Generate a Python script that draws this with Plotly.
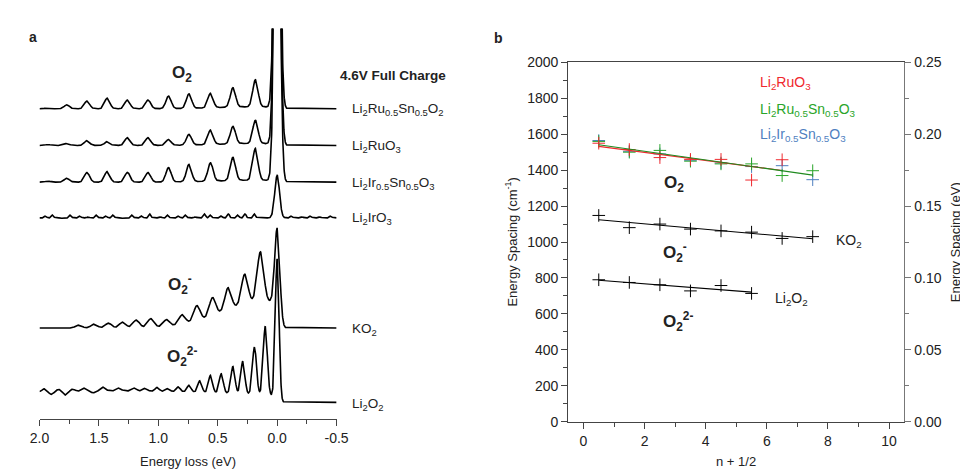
import numpy as np
import plotly.graph_objects as go

# ---------------- Panel a : RIXS spectra ----------------
spectrum_names = ["Li2Ru0.5Sn0.5O2", "Li2RuO3", "Li2Ir0.5Sn0.5O3", "Li2IrO3", "KO2", "Li2O2"]
spectrum_offsets = [321, 283, 245, 208, 94, 17]          # baseline level of each trace

o2_peak_eV = [0.183, 0.372, 0.561, 0.742, 0.914, 1.086, 1.26, 1.43, 1.60, 1.77, 1.93]
rusn_heights = [28, 20, 15, 15, 13, 9, 9, 11, 8, 4, 1]
ru_heights = [24, 18, 15, 11, 6, 8, 8, 4, 5, 2, 1]
irsn_heights = [33, 24, 19, 18, 15, 10, 10, 11, 10, 4, 1]

ir_noise_eV = [1.95, 1.89, 1.80, 1.74, 1.66, 1.59, 1.52, 1.44, 1.38, 1.29, 1.22, 1.14, 1.07,
               0.98, 0.92, 0.83, 0.77, 0.69, 0.61, 0.56, 0.47, 0.41, 0.33, 0.27, 0.19,
               -0.12, -0.21, -0.28, -0.36, -0.45]
ir_noise_h = [2, 3, -1, 3, 2, 1, 3, 2, 3, -1, 3, 2, 4, 1, 3, 2, 3, 1, 4, 3, 2, 4, 3, 4, 4,
              2, 1, 2, 1, 2]

ko2_peak_eV = [0.141, 0.273, 0.413, 0.544, 0.676, 0.799, 0.931, 1.063, 1.186, 1.30, 1.42, 1.54, 1.67]
ko2_heights = [51, 31, 23, 19, 16, 10, 7, 9, 8, 6, 5, 4, 3]

li2o2_peak_eV = [0.100, 0.191, 0.289, 0.372, 0.470, 0.561, 0.651, 0.742, 0.832, 0.92, 1.01, 1.11,
                 1.20, 1.33, 1.46, 1.55, 1.62, 1.72, 1.78, 1.84, 1.90, 1.96]
li2o2_heights = [71, 49, 34, 28, 20, 18, 12, 7, 5, 3, 4, 3, 3, 3, 4, -2, 3, 2, -4, 2, -3, 3]

elastic_heights = [450, 450, 450, 44, 101, 148]
elastic_widths = [0.022, 0.022, 0.022, 0.02, 0.022, 0.016]
background_center = [0.2, 0.2, 0.2, 0.2, 0.1, 1.4]
background_width = [0.3, 0.3, 0.3, 0.3, 0.35, 1.4]
background_height = [2, 2, 2, 0, 28, 12]

energy_ticks = [2.0, 1.5, 1.0, 0.5, 0.0, -0.5]
energy_ticktext = ["2.0", "1.5", "1.0", "0.5", "0.0", "-0.5"]

# ---------------- Panel b : energy spacing ----------------
n_half = [0.5, 1.5, 2.5, 3.5, 4.5, 5.5, 6.5, 7.5]
ru_cm = [1550, 1515, 1470, 1460, 1460, 1345, 1458]
rusn_cm = [1560, 1500, 1510, 1450, 1435, 1435, 1370, 1397]
irsn_cm = [1565, 1505, 1490, 1455, 1440, 1420, 1425, 1347]
ko2_cm = [1148, 1080, 1100, 1072, 1062, 1055, 1020, 1030]
li2o2_cm = [790, 775, 762, 728, 758, 714]

RED, GREEN, BLUE = "#f0282d", "#2aa52a", "#4f7fbf"
FONT = "Arial, Liberation Sans, sans-serif"
W, H = 968, 470


def px(x, y):
    return x / W, 1 - y / H


def gauss(E, c, s, a):
    return a * np.exp(-((E - c) ** 2) / (2 * s * s))


E = np.linspace(-0.5, 2.0, 1501)
loss_side = 1.0 / (1.0 + np.exp(-(E - 0.03) / 0.012))   # background only on energy-loss side
peak_sets = [
    (o2_peak_eV, rusn_heights, 0.022),
    (o2_peak_eV, ru_heights, 0.022),
    (o2_peak_eV, irsn_heights, 0.022),
    (ir_noise_eV, ir_noise_h, 0.009),
    (ko2_peak_eV, ko2_heights, 0.027),
    (li2o2_peak_eV, li2o2_heights, 0.017),
]

fig = go.Figure()
for i, name in enumerate(spectrum_names):
    pos, hts, sw = peak_sets[i]
    y = np.full_like(E, float(spectrum_offsets[i]))
    y += gauss(E, background_center[i], background_width[i], background_height[i]) * loss_side
    y += gauss(E, 0.0, elastic_widths[i], elastic_heights[i])
    for c, a in zip(pos, hts):
        y += gauss(E, c, sw, a)
    fig.add_trace(go.Scatter(x=E, y=y, mode="lines", name=name,
                             line=dict(color="black", width=1.6),
                             xaxis="x", yaxis="y", showlegend=False))


def add_markers(xs, ys, color):
    fig.add_trace(go.Scatter(x=xs, y=ys, mode="markers", xaxis="x2", yaxis="y2",
                             marker=dict(symbol="cross-thin", size=9, color=color,
                                         line=dict(color=color, width=1)),
                             showlegend=False))


def add_fit(xs, ys, color):
    xs = np.array(xs)
    k, b = np.polyfit(xs, np.array(ys), 1)
    xe = np.array([xs.min(), xs.max()])
    fig.add_trace(go.Scatter(x=xe, y=k * xe + b, mode="lines", xaxis="x2", yaxis="y2",
                             line=dict(color=color, width=1.1), showlegend=False))


add_markers(n_half[:len(irsn_cm)], irsn_cm, BLUE)
add_markers(n_half[:len(rusn_cm)], rusn_cm, GREEN)
add_markers(n_half[:len(ru_cm)], ru_cm, RED)
add_fit(n_half[:len(ru_cm)], ru_cm, RED)
add_fit(n_half[:len(rusn_cm)], rusn_cm, "#1f8a1f")
add_markers(n_half[:len(ko2_cm)], ko2_cm, "black")
add_fit(n_half[:len(ko2_cm)], ko2_cm, "black")
add_markers(n_half[:len(li2o2_cm)], li2o2_cm, "black")
add_fit(n_half[:len(li2o2_cm)], li2o2_cm, "black")

fig.add_trace(go.Scatter(x=[None], y=[None], xaxis="x2", yaxis="y3", showlegend=False))

AX = "#444444"
tickfont = dict(family=FONT, size=14, color="#222222")

fig.update_layout(
    width=W, height=H, margin=dict(l=0, r=0, t=0, b=0),
    paper_bgcolor="white", plot_bgcolor="white", showlegend=False,
    font=dict(family=FONT, color="#222222"),
    xaxis=dict(domain=[22 / W, 326 / W], range=[2.0, -0.5], anchor="y",
               tickvals=energy_ticks, ticktext=energy_ticktext,
               ticks="outside", ticklen=6, tickcolor=AX, showline=True, linecolor=AX,
               linewidth=1.2, showgrid=False, zeroline=False, tickfont=tickfont,
               minor=dict(dtick=0.25, tick0=0, ticks="outside", ticklen=4, tickcolor=AX)),
    yaxis=dict(domain=[1 - 417 / H, 1 - 13 / H], range=[0, 404], visible=False,
               anchor="x", showgrid=False, zeroline=False),
    xaxis2=dict(domain=[563 / W, 907 / W], range=[-0.5, 10.5], anchor="y2",
                dtick=2, tick0=0, ticks="outside", ticklen=6, tickcolor=AX,
                showline=True, linecolor=AX, linewidth=1.2, mirror=True,
                showgrid=False, zeroline=False, tickfont=tickfont,
                minor=dict(dtick=1, tick0=0, ticks="outside", ticklen=4, tickcolor=AX)),
    yaxis2=dict(domain=[1 - 420 / H, 1 - 48 / H], range=[0, 2000], anchor="x2",
                dtick=200, tick0=0, ticks="outside", ticklen=6, tickcolor=AX,
                showline=True, linecolor=AX, linewidth=1.2, showgrid=False,
                zeroline=False, tickfont=tickfont,
                minor=dict(dtick=100, tick0=0, ticks="outside", ticklen=4, tickcolor=AX)),
    yaxis3=dict(overlaying="y2", side="right", anchor="x2", range=[0, 0.25],
                dtick=0.05, tick0=0, tickformat=".2f", ticks="outside", ticklen=6,
                tickcolor="#777777", showline=True, linecolor="#777777", linewidth=1.2,
                showgrid=False, zeroline=False, tickfont=tickfont,
                minor=dict(dtick=0.025, tick0=0, ticks="outside", ticklen=4,
                           tickcolor="#777777")),
)

ann = []


def add_text(x, y, text, size=14, color="#222222", xanchor="center", angle=0):
    ax, ay = px(x, y)
    ann.append(dict(x=ax, y=ay, xref="paper", yref="paper", text=text, showarrow=False,
                    xanchor=xanchor, yanchor="middle", textangle=angle,
                    font=dict(family=FONT, size=size, color=color)))


# panel a texts
add_text(15, 22, "<b>a</b>", 14)
add_text(168, 60, "<b>O<sub>2</sub></b>", 17)
add_text(384, 62, "<b>4.6V Full Charge</b>", 13.5)
add_text(340, 97, "Li<sub>2</sub>Ru<sub>0.5</sub>Sn<sub>0.5</sub>O<sub>2</sub>", 13.5, xanchor="left")
add_text(340, 135, "Li<sub>2</sub>RuO<sub>3</sub>", 13.5, xanchor="left")
add_text(340, 173, "Li<sub>2</sub>Ir<sub>0.5</sub>Sn<sub>0.5</sub>O<sub>3</sub>", 13.5, xanchor="left")
add_text(340, 210, "Li<sub>2</sub>IrO<sub>3</sub>", 13.5, xanchor="left")
add_text(340, 325, "KO<sub>2</sub>", 13.5, xanchor="left")
add_text(340, 402, "Li<sub>2</sub>O<sub>2</sub>", 13.5, xanchor="left")
add_text(166, 278, "<b>O<sub>2</sub><sup>-</sup></b>", 17)
add_text(168, 352, "<b>O<sub>2</sub><sup>2-</sup></b>", 17)
add_text(174, 461, "Energy loss (eV)", 13)

# panel b texts
add_text(492, 23, "<b>b</b>", 14)
add_text(757, 69, "Li<sub>2</sub>RuO<sub>3</sub>", 14, RED, "left")
add_text(757, 97, "Li<sub>2</sub>Ru<sub>0.5</sub>Sn<sub>0.5</sub>O<sub>3</sub>", 14, GREEN, "left")
add_text(757, 123, "Li<sub>2</sub>Ir<sub>0.5</sub>Sn<sub>0.5</sub>O<sub>3</sub>", 14, BLUE, "left")
add_text(671, 174, "<b>O<sub>2</sub></b>", 17)
add_text(672, 245, "<b>O<sub>2</sub><sup>-</sup></b>", 17)
add_text(675, 316, "<b>O<sub>2</sub><sup>2-</sup></b>", 17)
add_text(835, 233, "KO<sub>2</sub>", 14, xanchor="left")
add_text(773, 293, "Li<sub>2</sub>O<sub>2</sub>", 14, xanchor="left")
add_text(505, 234, "Energy Spacing (cm<sup>-1</sup>)", 13, angle=-90)
add_text(959, 234, "Energy Spacing (eV)", 13, angle=-90)
add_text(735, 461, "n + 1/2", 13)

fig.update_layout(annotations=ann)
fig.write_html("out.html")
